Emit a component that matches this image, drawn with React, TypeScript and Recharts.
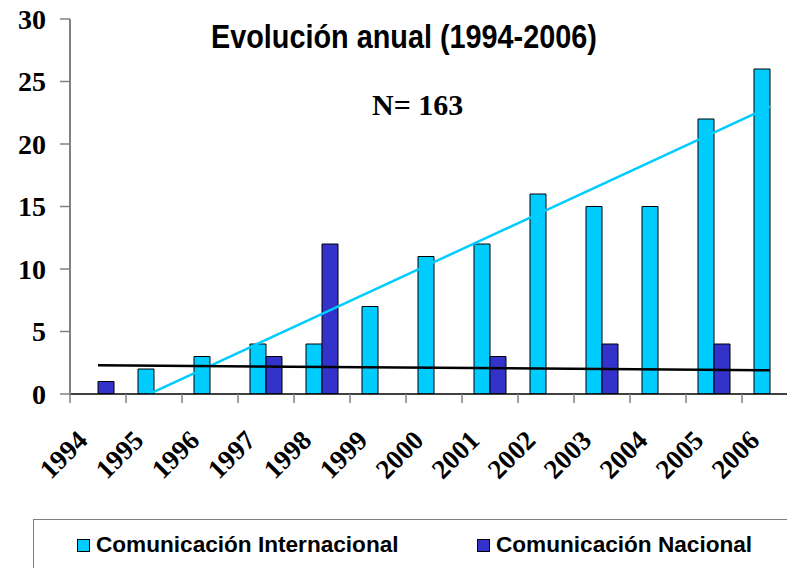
import React from "react";
import { ComposedChart, Bar, XAxis, YAxis, ReferenceLine } from "recharts";

// Annual counts
const years = ["1994", "1995", "1996", "1997", "1998", "1999", "2000", "2001", "2002", "2003", "2004", "2005", "2006"];
const internacional = [0, 2, 3, 4, 4, 7, 11, 12, 16, 15, 15, 22, 26];
const nacional = [1, 0, 0, 3, 12, 0, 0, 3, 0, 4, 0, 4, 0];
const yTicks = [0, 5, 10, 15, 20, 25, 30];

// Linear trend lines, value at first and last year as drawn
const trendInternacional = [-1.9, 23.0];
const trendNacional = [2.3, 1.9];

const CYAN = "#00CCFF";
const NAVY = "#3333CC";
const SERIF = '"Liberation Serif", "Times New Roman", serif';
const SANS = '"Liberation Sans", Arial, sans-serif';

const CHART_W = 800;
const CHART_H = 568;
const HALF_BAND = 28; // half a category, for boundary tick marks

const data = years.map((year, i) => ({
  year,
  internacional: internacional[i],
  nacional: nacional[i],
}));

function YearTick(props: any) {
  const { x, y, payload } = props;
  const tx = x - 9;
  const ty = y + 48;
  return (
    <g>
      <line x1={x - HALF_BAND} x2={x - HALF_BAND} y1={y} y2={y + 9} stroke="#808080" strokeWidth={1.5} />
      <text
        x={tx}
        y={ty}
        transform={`rotate(-45, ${tx}, ${ty})`}
        textAnchor="end"
        fontFamily={SERIF}
        fontWeight="bold"
        fontSize={27}
        fill="#000"
      >
        {payload.value}
      </text>
    </g>
  );
}

function LegendItem({ left, color, label }: { left: number; color: string; label: string }) {
  return (
    <div style={{ position: "absolute", left, top: 534, display: "flex", alignItems: "center" }}>
      <div
        style={{
          width: 13,
          height: 13,
          boxSizing: "border-box",
          background: color,
          border: "1px solid #000",
          marginRight: 6,
        }}
      />
      <span style={{ fontFamily: SANS, fontWeight: "bold", fontSize: 22.6, lineHeight: 1, color: "#000" }}>
        {label}
      </span>
    </div>
  );
}

export default function App() {
  const first = years[0];
  const last = years[years.length - 1];
  return (
    <div
      style={{
        position: "absolute",
        left: 0,
        top: 0,
        width: 787,
        height: 568,
        overflow: "hidden",
        background: "#fff",
      }}
    >
      <ComposedChart
        width={CHART_W}
        height={CHART_H}
        data={data}
        margin={{ top: 19, right: 2, left: 0, bottom: 0 }}
        barGap={0}
      >
        <XAxis
          dataKey="year"
          interval={0}
          height={174}
          tickSize={0}
          tickMargin={0}
          tick={<YearTick />}
          axisLine={{ stroke: "#000", strokeWidth: 1.5 }}
        />
        <YAxis
          domain={[0, 30]}
          ticks={yTicks}
          width={70}
          tickSize={10}
          tickMargin={14}
          allowDataOverflow
          axisLine={{ stroke: "#808080", strokeWidth: 2 }}
          tickLine={{ stroke: "#808080", strokeWidth: 1.5 }}
          tick={{ fontFamily: SERIF, fontWeight: "bold", fontSize: 28, fill: "#000" }}
        />
        <Bar dataKey="internacional" fill={CYAN} stroke="#000" strokeWidth={1} barSize={16} isAnimationActive={false} />
        <Bar dataKey="nacional" fill={NAVY} stroke="#000" strokeWidth={1} barSize={16} isAnimationActive={false} />
        <ReferenceLine
          segment={[
            { x: first, y: trendInternacional[0] },
            { x: last, y: trendInternacional[1] },
          ]}
          stroke={CYAN}
          strokeWidth={2.5}
          ifOverflow="hidden"
        />
        <ReferenceLine
          segment={[
            { x: first, y: trendNacional[0] },
            { x: last, y: trendNacional[1] },
          ]}
          stroke="#000"
          strokeWidth={2.5}
          ifOverflow="hidden"
        />
      </ComposedChart>

      <div
        style={{
          position: "absolute",
          left: 211,
          top: 20,
          fontFamily: SANS,
          fontWeight: "bold",
          fontSize: 33,
          lineHeight: 1,
          whiteSpace: "nowrap",
          transform: "scaleX(0.873)",
          transformOrigin: "left top",
          color: "#000",
        }}
      >
        Evolución anual (1994-2006)
      </div>
      <div
        style={{
          position: "absolute",
          left: 372,
          top: 90,
          fontFamily: SERIF,
          fontWeight: "bold",
          fontSize: 30,
          lineHeight: 1,
          whiteSpace: "nowrap",
          color: "#000",
        }}
      >
        N= 163
      </div>

      <div
        style={{
          position: "absolute",
          left: 33,
          top: 519,
          width: 800,
          height: 100,
          border: "1.5px solid #808080",
        }}
      />
      <LegendItem left={77} color={CYAN} label="Comunicación Internacional" />
      <LegendItem left={477} color={NAVY} label="Comunicación Nacional" />
    </div>
  );
}
